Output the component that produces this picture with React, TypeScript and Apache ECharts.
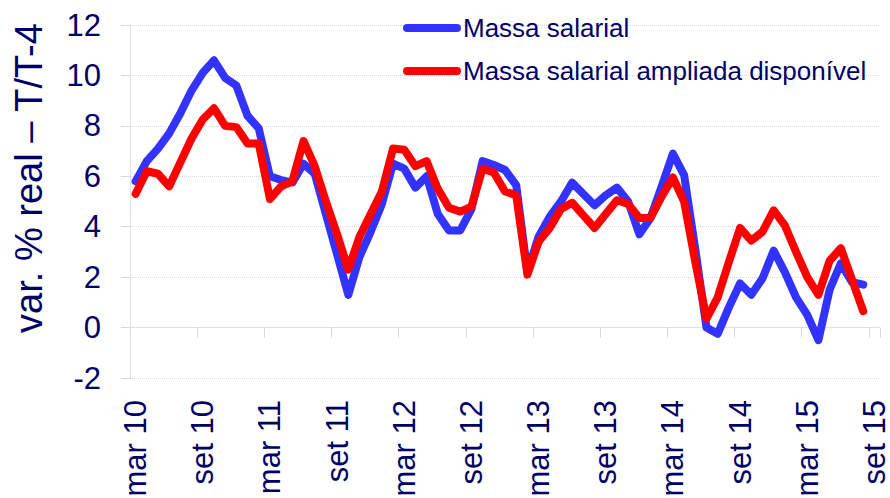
import React, { useEffect, useRef } from "react";
import * as echarts from "echarts";

const monthNames = ["jan", "fev", "mar", "abr", "mai", "jun", "jul", "ago", "set", "out", "nov", "dez"];
const years = [2010, 2011, 2012, 2013, 2014, 2015];
const categories: string[] = [];
years.forEach((y) => {
  const start = y === 2010 ? 2 : 0;
  const end = y === 2015 ? 8 : 11;
  for (let m = start; m <= end; m++) categories.push(`${monthNames[m]} ${String(y).slice(2)}`);
});

const massaSalarial = [
  5.8, 6.6, 7.1, 7.7, 8.5, 9.4, 10.1, 10.6, 9.9, 9.6, 8.4, 7.9,
  6.0, 5.85, 5.75, 6.5, 6.1, 4.5, 2.9, 1.3, 2.8, 3.8, 4.9, 6.5,
  6.3, 5.55, 6.0, 4.5, 3.85, 3.85, 4.7, 6.6, 6.45, 6.25, 5.65, 2.2,
  3.6, 4.4, 5.0, 5.75, 5.3, 4.85, 5.25, 5.55, 5.0, 3.7, 4.35, 5.6,
  6.9, 6.05, 3.1, 0.0, -0.25, 0.8, 1.75, 1.3, 1.95, 3.05, 2.2, 1.2,
  0.5, -0.5, 1.5, 2.55, 1.8, 1.7, null,
];

const massaAmpliada = [
  5.3, 6.2, 6.1, 5.6, 6.55, 7.5, 8.25, 8.7, 8.0, 7.95, 7.3, 7.3,
  5.1, 5.6, 5.8, 7.4, 6.4, 5.0, 3.7, 2.3, 3.6, 4.5, 5.4, 7.1,
  7.05, 6.4, 6.6, 5.5, 4.75, 4.6, 4.8, 6.3, 6.15, 5.4, 5.25, 2.1,
  3.4, 3.95, 4.7, 4.95, 4.45, 3.95, 4.5, 5.05, 4.9, 4.35, 4.35, 5.2,
  5.95, 5.0, 2.6, 0.35, 1.2, 2.6, 3.95, 3.45, 3.8, 4.65, 4.05, 3.0,
  2.0, 1.3, 2.65, 3.15, 1.9, 0.65, null,
];

const seriesNames = ["Massa salarial", "Massa salarial ampliada disponível"];
const yTitle = "var. % real – T/T-4";

const TEXT = "#000066";
const GRID = "#d9d9d9";
const FONT = "Liberation Sans, Arial, sans-serif";

export default function App() {
  const ref = useRef<HTMLDivElement>(null);
  useEffect(() => {
    if (!ref.current) return;
    const chart = echarts.init(ref.current, null, { renderer: "svg" });
    chart.setOption({
      animation: false,
      backgroundColor: "#ffffff",
      textStyle: { fontFamily: FONT },
      grid: { left: 130, right: 10, top: 25, bottom: 120, outerBoundsMode: "none", containLabel: false },
      legend: {
        orient: "vertical",
        left: 403,
        top: 13,
        padding: 0,
        itemWidth: 58,
        itemHeight: 8,
        itemGap: 13,
        icon: "path://M4 0H54A4 4 0 0 1 54 8H4A4 4 0 0 1 4 0Z",
        textStyle: { color: TEXT, fontSize: 26, fontFamily: FONT, lineHeight: 30, padding: [0, 0, 0, -3] },
        data: seriesNames,
      },
      graphic: [
        {
          type: "text",
          x: 29,
          y: 178,
          rotation: Math.PI / 2,
          style: {
            text: yTitle,
            fill: TEXT,
            font: `38px ${FONT}`,
            textAlign: "center",
            textVerticalAlign: "middle",
          },
        },
      ],
      xAxis: {
        type: "category",
        data: categories,
        boundaryGap: true,
        axisLine: { onZero: true, lineStyle: { color: GRID, type: "dotted" } },
        axisTick: { show: true, interval: 5, length: 10, lineStyle: { color: GRID } },
        axisLabel: {
          interval: 5,
          rotate: 90,
          margin: 22,
          color: TEXT,
          fontSize: 31,
          lineHeight: 26,
          fontFamily: FONT,
        },
        splitLine: { show: false },
      },
      yAxis: {
        type: "value",
        min: -2,
        max: 12,
        interval: 2,
        axisLine: { show: true, lineStyle: { color: GRID, type: "dotted" } },
        axisTick: { show: true, length: 9, lineStyle: { color: GRID } },
        axisLabel: { color: TEXT, fontSize: 31, fontFamily: FONT, margin: 29 },
        splitLine: { show: true, lineStyle: { color: GRID, type: "dotted" } },
      },
      series: [
        {
          name: seriesNames[0],
          type: "line",
          data: massaSalarial,
          symbol: "none",
          color: "#3333ff",
          lineStyle: { width: 8, color: "#3333ff", cap: "round", join: "round" },
          z: 2,
        },
        {
          name: seriesNames[1],
          type: "line",
          data: massaAmpliada,
          symbol: "none",
          color: "#ff0000",
          lineStyle: { width: 8, color: "#ff0000", cap: "round", join: "round" },
          z: 3,
        },
      ],
    });
    return () => chart.dispose();
  }, []);
  return <div ref={ref} style={{ width: 890, height: 498, position: "absolute", left: 0, top: 0 }} />;
}
